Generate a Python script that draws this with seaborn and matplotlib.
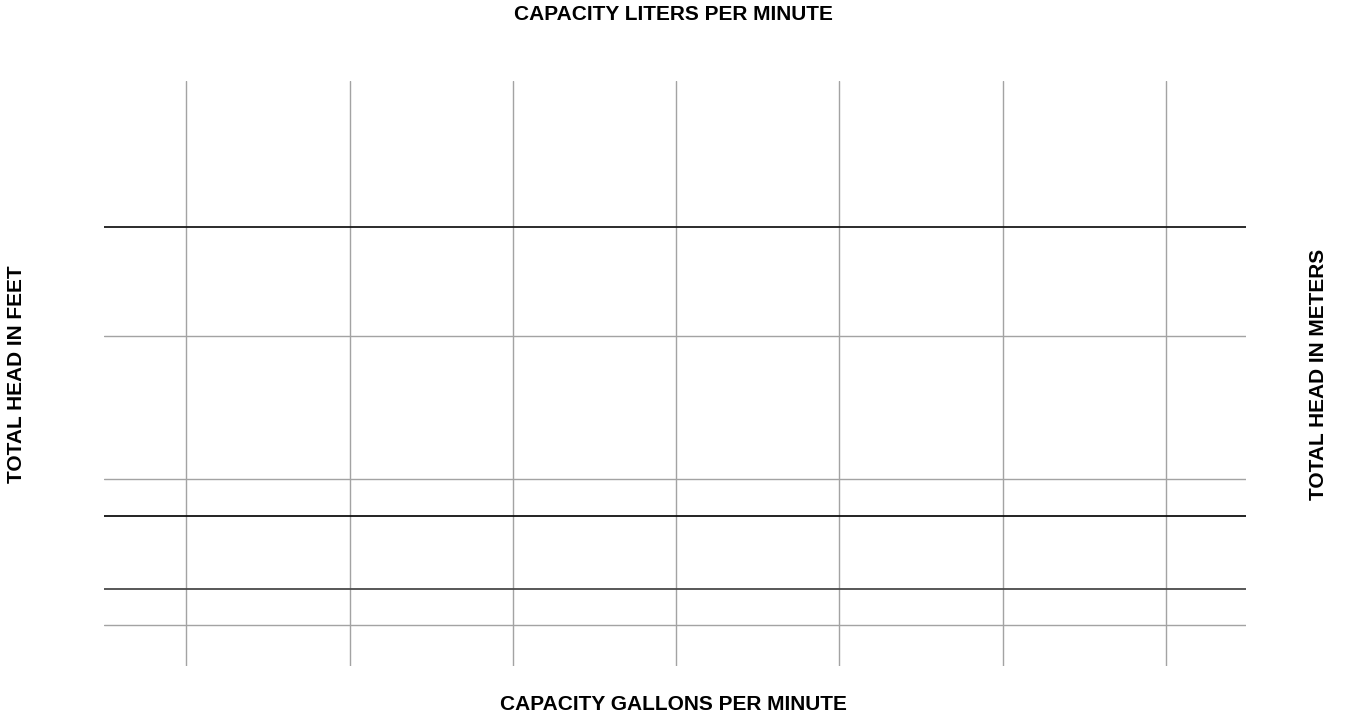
import matplotlib
matplotlib.use("Agg")
import matplotlib.pyplot as plt
import seaborn as sns

# Blank pump performance grid (no curves plotted)
gpm_grid = [0, 1, 2, 3, 4, 5, 6]            # vertical grid lines (capacity)
head_light = [7.0, 32.0, 56.4]              # light horizontal grid lines
head_dark = [75.1, 25.6, 13.2]              # darker reference lines
head_dark_colors = ["#1a1a1a", "#111111", "#4a4a4a"]

sns.set_style("white")
plt.rcParams["font.family"] = ["Liberation Sans", "DejaVu Sans"]

fig = plt.figure(figsize=(13.58, 7.18), dpi=100)
ax = fig.add_axes([104 / 1358, 1 - 666 / 718, (1246 - 104) / 1358, (666 - 81) / 718])

ax.set_xlim(-0.505, 6.49)
ax.set_ylim(0, 100)
ax.set_xticks(gpm_grid)
ax.set_yticks(head_light)
ax.grid(True, color="#a3a3a3", linewidth=1.0)
ax.tick_params(left=False, bottom=False, labelleft=False, labelbottom=False)
for s in ax.spines.values():
    s.set_visible(False)

for h, c in zip(head_dark, head_dark_colors):
    ax.axhline(h, color=c, linewidth=1.3)

lbl = dict(ha="center", va="center", fontsize=15, fontweight="bold", color="black")
fig.text(673 / 1358, 1 - 15 / 718, "CAPACITY LITERS PER MINUTE", **lbl)
fig.text(673 / 1358, 1 - 705 / 718, "CAPACITY GALLONS PER MINUTE", **lbl)
fig.text(17 / 1358, 1 - 374 / 718, "TOTAL HEAD IN FEET", rotation=90, **lbl)
fig.text(1318 / 1358, 1 - 374 / 718, "TOTAL HEAD IN METERS", rotation=90, **lbl)

fig.savefig("out.png", dpi=100)
